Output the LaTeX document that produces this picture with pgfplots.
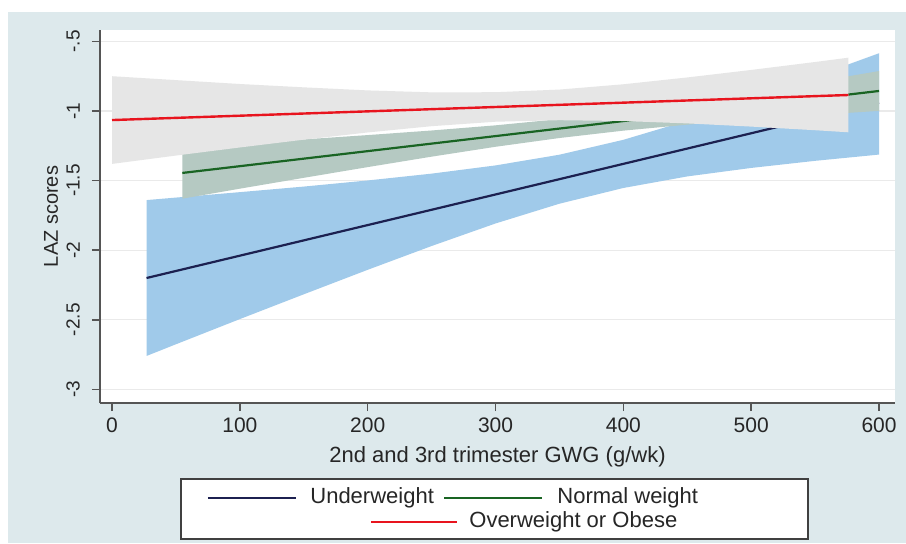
\documentclass[border=0pt]{standalone}
\usepackage{fontspec}
\setmainfont{Liberation Sans}
\usepackage{pgfplots}
\pgfplotsset{compat=1.18}

\definecolor{bgblue}{RGB}{221,233,236}
\definecolor{bandblue}{RGB}{160,202,234}
\definecolor{bandgreen}{RGB}{181,201,194}
\definecolor{bandgray}{RGB}{230,230,230}
\definecolor{navyline}{RGB}{28,32,80}
\definecolor{greenline}{RGB}{25,100,35}
\definecolor{redline}{RGB}{232,20,30}
\definecolor{axisgray}{RGB}{85,85,85}
\definecolor{gridgray}{RGB}{234,234,234}

\begin{document}
\begin{tikzpicture}
\path[use as bounding box] (-50pt,-70pt) rectangle (403pt,201.5pt);
\fill[bgblue] (-46pt,-70pt) rectangle (403pt,195.5pt);

\begin{axis}[
  at={(0,0)}, anchor=south west,
  scale only axis, width=397.5pt, height=186.5pt,
  xmin=-9.4, xmax=612.5, ymin=-3.098, ymax=-0.418,
  axis x line=bottom, axis y line=left,
  axis line style={draw=axisgray, line width=0.8pt, -},
  axis background/.style={fill=white},
  xtick={0,100,200,300,400,500,600},
  xticklabels={0,100,200,300,400,500,600},
  ytick={-3,-2.5,-2,-1.5,-1,-0.5},
  yticklabels={-3,-2.5,-2,-1.5,-1,-.5},
  tick align=outside, major tick length=4pt,
  tick style={draw=axisgray, line width=0.8pt},
  ymajorgrids, grid style={draw=gridgray, line width=0.6pt},
  xticklabel style={font=\fontsize{10.5}{12}\selectfont, text=black!85},
  yticklabel style={rotate=90, anchor=south, font=\fontsize{9.5}{11}\selectfont, text=black!85},
  yticklabel shift=2.5pt,
  xlabel={2nd and 3rd trimester GWG (g/wk)},
  ylabel={LAZ scores},
  xlabel style={at={(axis description cs:0.5,-0.1448)}, anchor=center, font=\fontsize{11}{13}\selectfont, text=black!85},
  ylabel style={at={(axis description cs:-0.0616,0.5)}, anchor=center, font=\fontsize{10}{12}\selectfont, text=black!85},
]

% Underweight: CI band and fitted line
\addplot[fill=bandblue, draw=none] coordinates {
  (27,-1.640) (50,-1.622) (100,-1.583) (150,-1.543) (200,-1.499) (250,-1.450)
  (300,-1.391) (350,-1.314) (400,-1.207) (450,-1.070) (500,-0.911) (550,-0.752) (600,-0.585)
  (600,-1.313) (550,-1.358) (500,-1.409) (450,-1.470) (400,-1.553) (350,-1.666)
  (300,-1.808) (250,-1.970) (200,-2.141) (150,-2.317) (100,-2.495) (50,-2.676) (27,-2.760)
} -- cycle;
\addplot[navyline, line width=1.1pt] coordinates {(27,-2.200) (600,-0.940)};

% Normal weight
\addplot[fill=bandgreen, draw=none] coordinates {
  (55,-1.260) (100,-1.234) (150,-1.204) (200,-1.173) (250,-1.140) (300,-1.103)
  (350,-1.058) (400,-1.003) (450,-0.938) (500,-0.866) (550,-0.791) (600,-0.713)
  (600,-0.999) (550,-1.029) (500,-1.062) (450,-1.098) (400,-1.141) (350,-1.194)
  (300,-1.257) (250,-1.328) (200,-1.403) (150,-1.480) (100,-1.558) (55,-1.630)
} -- cycle;
\addplot[greenline, line width=1.1pt] coordinates {(55,-1.445) (600,-0.856)};

% Overweight or obese
\addplot[fill=bandgray, draw=none] coordinates {
  (0,-0.750) (50,-0.778) (100,-0.806) (150,-0.830) (200,-0.852) (250,-0.866)
  (300,-0.865) (350,-0.846) (400,-0.808) (450,-0.759) (500,-0.705) (550,-0.648) (576,-0.617)
  (576,-1.153) (550,-1.138) (500,-1.112) (450,-1.089) (400,-1.072) (350,-1.066)
  (300,-1.077) (250,-1.109) (200,-1.154) (150,-1.206) (100,-1.262) (50,-1.320) (0,-1.380)
} -- cycle;
\addplot[redline, line width=1.2pt] coordinates {(0,-1.065) (576,-0.885)};
\end{axis}

% legend box
\draw[black!75, line width=0.6pt, fill=white] (40.5pt,-68pt) rectangle (354pt,-38pt);
\begin{scope}[font=\fontsize{11}{13}\selectfont]
\draw[navyline, line width=1.1pt] (54pt,-47.5pt) -- (98pt,-47.5pt);
\node[anchor=west, inner sep=0pt, text=black!85] at (105pt,-47.5pt) {Underweight};
\draw[greenline, line width=1.1pt] (172pt,-47.5pt) -- (221pt,-47.5pt);
\node[anchor=west, inner sep=0pt, text=black!85] at (228.5pt,-47.5pt) {Normal weight};
\draw[redline, line width=1.1pt] (135.5pt,-59.5pt) -- (178.5pt,-59.5pt);
\node[anchor=west, inner sep=0pt, text=black!85] at (184.5pt,-59.5pt) {Overweight or Obese};
\end{scope}
\end{tikzpicture}
\end{document}
